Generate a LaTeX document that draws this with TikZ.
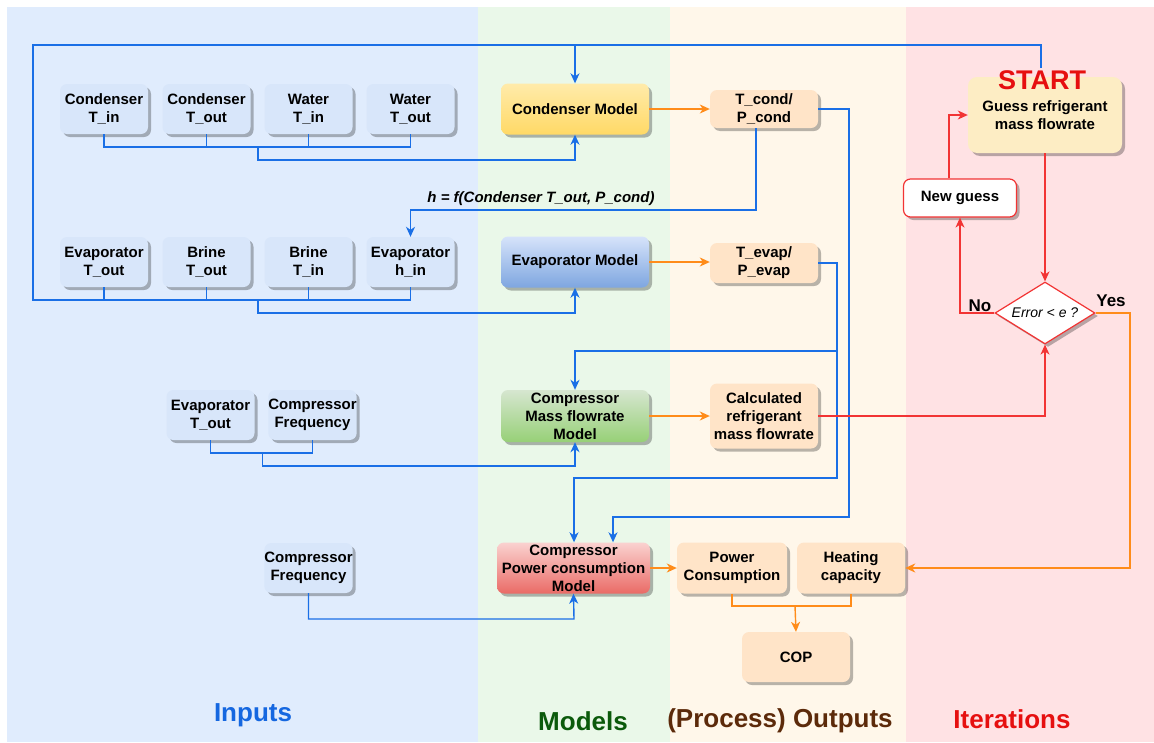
\documentclass[tikz,border=0pt]{standalone}
\usepackage{fontspec}
\setmainfont{Liberation Sans}
\usetikzlibrary{shapes.geometric,arrows.meta,shadows}
\definecolor{bgin}{HTML}{E0ECFD}
\definecolor{bgmod}{HTML}{EAF8E9}
\definecolor{bgout}{HTML}{FFF7EA}
\definecolor{bgit}{HTML}{FFE2E4}
\definecolor{inblue}{HTML}{D8E6FA}
\definecolor{outor}{HTML}{FFE4C8}
\definecolor{startyel}{HTML}{FDEDC4}
\definecolor{lblue}{HTML}{1A6FE6}
\definecolor{lorange}{HTML}{FF8C1A}
\definecolor{lred}{HTML}{F23434}
\definecolor{tinputs}{HTML}{1567E0}
\definecolor{tmodels}{HTML}{0B5A0B}
\definecolor{touts}{HTML}{5C2A0A}
\definecolor{titer}{HTML}{E61010}
\tikzset{
  boxbase/.style={rounded corners=7pt, align=center, inner sep=0pt,
    font=\bfseries\fontsize{15}{18}\selectfont,
    drop shadow={shadow xshift=3pt,shadow yshift=-3pt,fill=black,opacity=0.28}},
  inbox/.style={boxbase, fill=inblue, minimum width=88pt, minimum height=50pt},
  outbox/.style={boxbase, fill=outor},
  modbox/.style={boxbase, minimum width=148pt, minimum height=51pt},
  blue line/.style={draw=lblue, line width=1.4pt},
  blue arrow/.style={blue line, -{Stealth[length=10pt,width=9pt,inset=3pt]}},
  orange line/.style={draw=lorange, line width=1.4pt},
  orange arrow/.style={orange line, -{Stealth[length=10pt,width=9pt,inset=3pt]}},
  red line/.style={draw=lred, line width=1.4pt},
  red arrow/.style={red line, -{Stealth[length=10pt,width=9pt,inset=3pt]}},
  collabel/.style={font=\bfseries\fontsize{26}{30}\selectfont}
}
\begin{document}
\begin{tikzpicture}[x=1pt,y=-1pt]
\useasboundingbox (0,0) rectangle (1154,742);
\fill[white] (0,0) rectangle (1154,742);
% bands
\fill[bgin] (7,7) rectangle (478,742);
\fill[bgmod] (478,7) rectangle (670,742);
\fill[bgout] (670,7) rectangle (906,742);
\fill[bgit] (906,7) rectangle (1154,742);

% input row 1
\node[inbox] (c1) at (104,109) {Condenser\\T\_in};
\node[inbox] (c2) at (206.5,109) {Condenser\\T\_out};
\node[inbox] (c3) at (308.5,109) {Water\\T\_in};
\node[inbox] (c4) at (410.5,109) {Water\\T\_out};
% input row 2
\node[inbox] (e1) at (104,262) {Evaporator\\T\_out};
\node[inbox] (e2) at (206.5,262) {Brine\\T\_out};
\node[inbox] (e3) at (308.5,262) {Brine\\T\_in};
\node[inbox] (e4) at (410.5,262) {Evaporator\\h\_in};
% input row 3
\node[inbox] (r1) at (210.5,415) {Evaporator\\T\_out};
\node[inbox] (r2) at (312.5,415) {Compressor\\Frequency};
% input row 4
\node[inbox] (f1) at (308.5,568) {Compressor\\Frequency};

% models
\node[modbox, top color={rgb,255:red,255;green,235;blue,170}, bottom color={rgb,255:red,255;green,217;blue,102}] (condm) at (575,109) {Condenser Model};
\node[modbox, top color={rgb,255:red,214;green,227;blue,250}, bottom color={rgb,255:red,126;green,166;blue,224}] (evapm) at (575,262) {Evaporator Model};
\node[modbox, minimum height=52pt, top color={rgb,255:red,214;green,230;blue,208}, bottom color={rgb,255:red,151;green,208;blue,119}] (massm) at (575,416) {Compressor\\Mass flowrate\\Model};
\node[modbox, minimum width=153pt, top color={rgb,255:red,250;green,210;blue,208}, bottom color={rgb,255:red,234;green,107;blue,102}] (powm) at (573.5,568) {Compressor\\Power consumption\\Model};

% outputs
\node[outbox, minimum width=108pt, minimum height=38pt] (tcond) at (764,109) {T\_cond/\\P\_cond};
\node[outbox, minimum width=108pt, minimum height=40pt] (tevap) at (764,263) {T\_evap/\\P\_evap};
\node[outbox, minimum width=108pt, minimum height=65pt] (calc) at (764,416) {Calculated\\refrigerant\\mass flowrate};
\node[outbox, minimum width=110pt, minimum height=51pt] (powc) at (732,568) {Power\\Consumption};
\node[outbox, minimum width=108pt, minimum height=51pt] (heat) at (851,568) {Heating\\capacity};
\node[outbox, minimum width=108pt, minimum height=50pt] (cop) at (796,657) {COP};

% iterations
\node[boxbase, fill=startyel, minimum width=154pt, minimum height=76pt, rounded corners=9pt] (guess) at (1045,115) {Guess refrigerant\\mass flowrate};
\node[font=\bfseries\fontsize{27}{30}\selectfont, text=titer, inner sep=0pt] (startlbl) at (1042,80) {START};
\node[boxbase, fill=white, draw=lred, line width=1.2pt, minimum width=113pt, minimum height=38pt] (newg) at (960,198) {New guess};
\node[diamond, fill=white, draw=lred, line width=1.2pt, inner sep=0pt, minimum width=100pt, minimum height=62pt, aspect=1.6, font=\itshape\fontsize{14}{16}\selectfont, drop shadow={shadow xshift=3pt,shadow yshift=-3pt,fill=black,opacity=0.28}] (dia) at (1045,313) {Error < e ?};

% coordinates
\coordinate (sl) at (1041,68);
\coordinate (tl) at (33,45);
\coordinate (bl) at (33,300);
\coordinate (cb) at (258,147);
\coordinate (cb2) at (258,160);
\coordinate (eb) at (258,300);
\coordinate (eb2) at (258,313);
\coordinate (mb) at (262.5,453);
\coordinate (mb2) at (262.5,466);
\coordinate (hc) at (410.5,210);
\coordinate (tc1) at (849,517);
\coordinate (te1) at (837,478);
\coordinate (tebr) at (837,351);
\coordinate (pb) at (574,619);
\coordinate (ob) at (795,606);
\coordinate (yc) at (1130,568);

% blue loop from START
\draw[blue line] (sl) |- (tl) -- (bl) -| (e4.south);
\draw[blue arrow] (condm.north |- tl) -- (condm.north);
\foreach \n in {e1,e2,e3} \draw[blue line] (\n.south) -- (\n.south |- bl);
\draw[blue arrow] (eb) -- (eb2) -| (evapm.south);

% condenser bus
\draw[blue line] (c1.south) |- (cb) -| (c4.south);
\foreach \n in {c2,c3} \draw[blue line] (\n.south) -- (\n.south |- cb);
\draw[blue arrow] (cb) -- (cb2) -| (condm.south);

% h = f(...)
\draw[blue arrow] ([xshift=-8pt]tcond.south) |- (hc) -- (e4.north);
\node[font=\bfseries\itshape\fontsize{15}{18}\selectfont, inner sep=0pt] (hlbl) at (541,199) {h = f(Condenser T\_out, P\_cond)};

% mass model inputs
\draw[blue line] (r1.south) |- (mb) -| (r2.south);
\draw[blue arrow] (mb) -- (mb2) -| (massm.south);

% T_cond to power model
\draw[blue arrow] (tcond.east) -| (tc1) -| ([xshift=39.5pt]powm.north);
% T_evap to mass and power models
\draw[blue arrow] (tevap.east) -| (te1) -| ([xshift=0.5pt]powm.north);
\draw[blue arrow] (tebr) -| (massm.north);

% compressor frequency to power model
\draw[blue arrow] (f1.south) |- (pb) -- (powm.south);

% orange arrows
\draw[orange arrow] (condm.east) -- (tcond.west);
\draw[orange arrow] (evapm.east) -- (tevap.west |- evapm.east);
\draw[orange arrow] (massm.east) -- (calc.west |- massm.east);
\draw[orange arrow] (powm.east) -- (powc.west);
\draw[orange line] (powc.south) |- (ob) -| (heat.south);
\draw[orange arrow] (ob) -- (cop.north);
\draw[orange arrow] (dia.east) -| (yc) -- (heat.east);

% red arrows
\draw[red arrow] (guess.south) -- (dia.north);
\draw[red arrow] (calc.east) -| (dia.south);
\draw[red arrow] (dia.west) -| (newg.south);
\draw[red arrow] ([xshift=-11pt]newg.north) |- (guess.west);

\node[font=\bfseries\fontsize{17}{20}\selectfont, inner sep=0pt] (nolbl) at (980,306) {No};
\node[font=\bfseries\fontsize{17}{20}\selectfont, inner sep=0pt] (yeslbl) at (1111,301) {Yes};

% column labels
\node[collabel, text=tinputs] (lin) at (253,715) {Inputs};
\node[collabel, text=tmodels] (lmod) at (583,721) {Models};
\node[collabel, text=touts] (lout) at (780,721) {(Process) Outputs};
\node[collabel, text=titer] (lit) at (1012,719) {Iterations};
\end{tikzpicture}
\end{document}
